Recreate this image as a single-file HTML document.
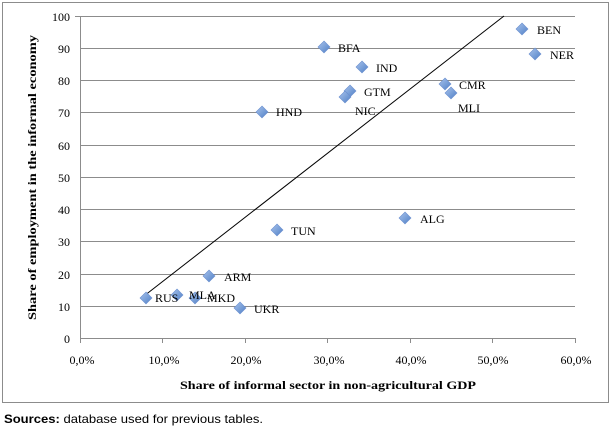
<!DOCTYPE html><html><head><style>body{margin:0;background:#fff}svg text{font-family:"Liberation Serif",serif}</style></head><body>
<svg width="614" height="431" xmlns="http://www.w3.org/2000/svg">
<defs><linearGradient id="g" x1="0" y1="0" x2="1" y2="1"><stop offset="0" stop-color="#a9c4ec"/><stop offset="1" stop-color="#4f7fc6"/></linearGradient>
<symbol id="d" overflow="visible"><path d="M0,-6 6,0 0,6 -6,0Z" fill="url(#g)" stroke="#6a8fcf" stroke-width="0.6"/></symbol></defs>
<rect x="2.5" y="2.5" width="606" height="400" fill="#fff" stroke="#8c8c8c"/>
<g stroke="#8c8c8c" stroke-width="1">
<line x1="80" x2="575" y1="16.5" y2="16.5"/><line x1="80" x2="575" y1="48.5" y2="48.5"/><line x1="80" x2="575" y1="80.5" y2="80.5"/><line x1="80" x2="575" y1="112.5" y2="112.5"/><line x1="80" x2="575" y1="145.5" y2="145.5"/><line x1="80" x2="575" y1="177.5" y2="177.5"/><line x1="80" x2="575" y1="209.5" y2="209.5"/><line x1="80" x2="575" y1="241.5" y2="241.5"/><line x1="80" x2="575" y1="274.5" y2="274.5"/><line x1="80" x2="575" y1="306.5" y2="306.5"/><line x1="80" x2="575" y1="338.5" y2="338.5"/>
<line x1="80.5" x2="80.5" y1="16" y2="338"/>
<line x1="80.5" x2="80.5" y1="338" y2="343"/><line x1="162.5" x2="162.5" y1="338" y2="343"/><line x1="245.5" x2="245.5" y1="338" y2="343"/><line x1="327.5" x2="327.5" y1="338" y2="343"/><line x1="410.5" x2="410.5" y1="338" y2="343"/><line x1="492.5" x2="492.5" y1="338" y2="343"/><line x1="575.5" x2="575.5" y1="338" y2="343"/>
<line x1="75" x2="80" y1="16.5" y2="16.5"/>
</g>
<line x1="144" y1="296" x2="504" y2="16" stroke="#000" stroke-width="1"/>
<g font-size="12" text-anchor="end" fill="#000" style="font-family:'Liberation Sans',sans-serif">
<text x="70" y="21">100</text><text x="70" y="53">90</text><text x="70" y="85">80</text><text x="70" y="117">70</text><text x="70" y="150">60</text><text x="70" y="182">50</text><text x="70" y="214">40</text><text x="70" y="246">30</text><text x="70" y="279">20</text><text x="70" y="311">10</text><text x="70" y="343">0</text></g>
<g font-size="12" text-anchor="middle" style="font-family:'Liberation Sans',sans-serif">
<text x="82" y="364">0,0%</text><text x="164" y="364">10,0%</text><text x="246" y="364">20,0%</text><text x="329" y="364">30,0%</text><text x="411" y="364">40,0%</text><text x="493" y="364">50,0%</text><text x="576" y="364">60,0%</text></g>
<text x="180" y="389" font-size="12" font-weight="bold" textLength="296" lengthAdjust="spacingAndGlyphs">Share of  informal sector in non-agricultural  GDP</text>
<text transform="translate(36,320) rotate(-90)" font-size="12" font-weight="bold" textLength="285" lengthAdjust="spacingAndGlyphs">Share of employment in the informal economy</text>
<g><use href="#d" x="146" y="298"/><use href="#d" x="177" y="295"/><use href="#d" x="195" y="298"/><use href="#d" x="209" y="276"/><use href="#d" x="240" y="308"/><use href="#d" x="277" y="230"/><use href="#d" x="262" y="112"/><use href="#d" x="324" y="47"/><use href="#d" x="362" y="67"/><use href="#d" x="350" y="91"/><use href="#d" x="345" y="97"/><use href="#d" x="405" y="218"/><use href="#d" x="445" y="84"/><use href="#d" x="451" y="93"/><use href="#d" x="522" y="29"/><use href="#d" x="535" y="54"/></g>
<g font-size="12">
<text x="155" y="302">RUS</text><text x="189" y="299">MLA</text><text x="207" y="302">MKD</text><text x="224" y="281">ARM</text><text x="254" y="313">UKR</text><text x="291" y="235">TUN</text><text x="276" y="116">HND</text><text x="338" y="52">BFA</text><text x="376" y="72">IND</text><text x="364" y="96">GTM</text><text x="355" y="115">NIC</text><text x="420" y="223">ALG</text><text x="459" y="89">CMR</text><text x="458" y="112">MLI</text><text x="537" y="34">BEN</text><text x="550" y="59">NER</text></g>
<text x="4" y="423" font-size="12" style="font-family:'Liberation Sans',sans-serif" textLength="259" lengthAdjust="spacingAndGlyphs"><tspan font-weight="bold">Sources:</tspan> database used for previous tables.</text>
</svg></body></html>
